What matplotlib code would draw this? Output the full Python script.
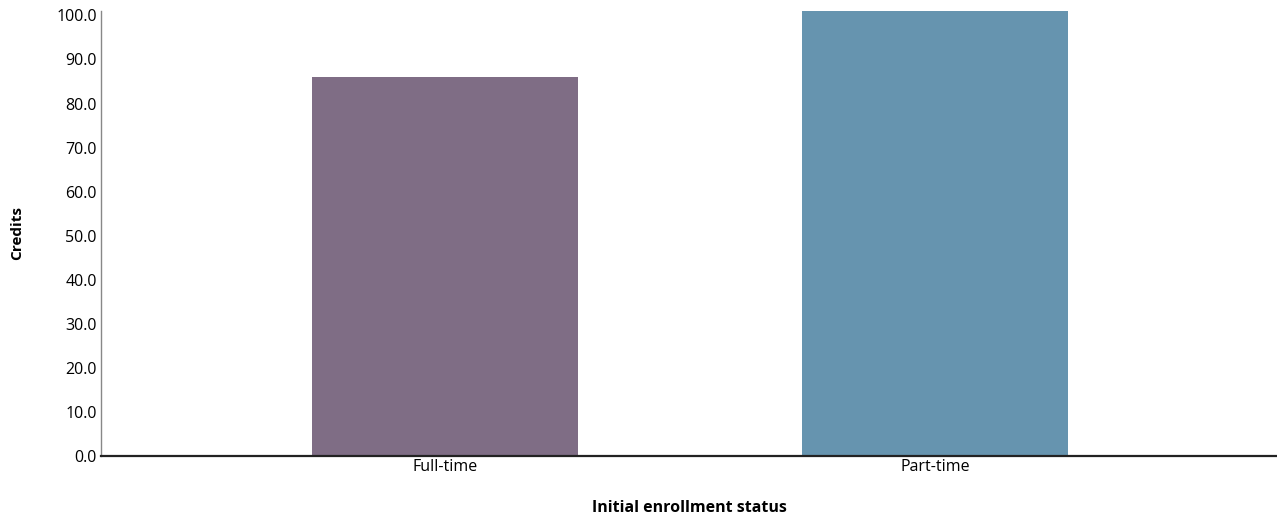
import matplotlib
matplotlib.use("Agg")
import matplotlib.pyplot as plt

categories = ["Full-time", "Part-time"]
credits = [86.0, 101.0]
colors = ["#7f6d85", "#6694af"]
yticks = [0, 10, 20, 30, 40, 50, 60, 70, 80, 90, 100]

plt.rcParams['font.family'] = ['Open Sans', 'DejaVu Sans']

fig = plt.figure(figsize=(12.77, 5.17), dpi=100)
ax = fig.add_axes([101/1277, 1 - 456/517, 1 - 101/1277, (456 - 11)/517])

x = list(range(len(categories)))
ax.bar(x, credits, width=0.543, color=colors)
ax.set_xlim(-0.702, 1.698)
ax.set_ylim(0, 101)
ax.set_yticks(yticks)
ax.set_yticklabels([f"{v:.1f}" for v in yticks], fontsize=11.5)
ax.set_xticks(x)
ax.set_xticklabels(categories, fontsize=11.5)
ax.tick_params(axis='x', length=0, pad=2)
ax.tick_params(axis='y', length=0, pad=3)

for s in ["top", "right"]:
    ax.spines[s].set_visible(False)
ax.spines["left"].set_color("#888888")
ax.spines["left"].set_linewidth(1.0)
ax.spines["bottom"].set_color("#222222")
ax.spines["bottom"].set_linewidth(1.6)

fig.text(17/1277, 1 - 233/517, "Credits", rotation=90, ha="center", va="center",
         fontsize=11, fontweight="bold")
fig.text(689/1277, 1 - 508/517, "Initial enrollment status", ha="center", va="center",
         fontsize=11.5, fontweight="bold")

fig.savefig("out.png", dpi=100)
